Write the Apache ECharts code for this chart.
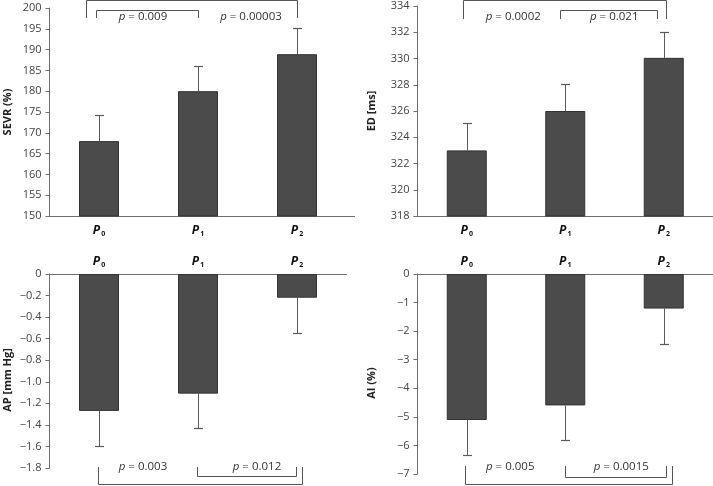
<!DOCTYPE html>
<html>
<head>
<meta charset="utf-8">
<script src="https://cdn.jsdelivr.net/npm/echarts@6/dist/echarts.min.js"></script>
<style>
html,body{margin:0;padding:0;background:#fff;}
#c{width:713px;height:486px;}
</style>
</head>
<body>
<div id="c"></div>
<script>
// ---- data ----
const categories = ['0', '1', '2'];
const sevrMean = [168, 180, 188.9];
const sevrErrEnd = [174.3, 186.1, 195.1];
const edMean = [323, 326, 330.05];
const edErrEnd = [325.05, 328.05, 332.05];
const apMean = [-1.27, -1.11, -0.22];
const apErrEnd = [-1.60, -1.43, -0.55];
const aiMean = [-5.11, -4.60, -1.21];
const aiErrEnd = [-6.34, -5.82, -2.44];
const yNames = ['SEVR (%)', 'ED [ms]', 'AP [mm Hg]', 'AI (%)'];
const pTexts = [
  ['0.009', '0.00003'],
  ['0.0002', '0.021'],
  ['0.003', '0.012'],
  ['0.005', '0.0015']
];

const FONT = 'Open Sans';
const chart = echarts.init(document.getElementById('c'), null, {renderer: 'canvas'});

const grids = [
  {left: 49.5, top: 8, width: 297, height: 208},
  {left: 417.5, top: 6, width: 295.5, height: 210},
  {left: 49.5, top: 274, width: 297, height: 194},
  {left: 417.5, top: 274, width: 295.5, height: 200}
];
const yRanges = [
  {min: 150, max: 200, interval: 5},
  {min: 318, max: 334, interval: 2},
  {min: -1.8, max: 0, interval: 0.2},
  {min: -7, max: 0, interval: 1}
];
const means = [sevrMean, edMean, apMean, aiMean];
const errs = [sevrErrEnd, edErrEnd, apErrEnd, aiErrEnd];

function fmtY(i) {
  return function (v) {
    if (Math.abs(v) < 1e-9) return '0';
    let s = (i === 2) ? v.toFixed(1) : String(Math.round(v));
    return s.replace('-', '\u2212');
  };
}

const xAxes = [], yAxes = [], series = [];
for (let i = 0; i < 4; i++) {
  const top = i >= 2;
  xAxes.push({
    type: 'category', gridIndex: i, data: categories,
    position: top ? 'top' : 'bottom',
    axisLine: {onZero: false, lineStyle: {color: '#6e6e6e', width: 1}},
    axisTick: {show: false},
    axisLabel: {
      margin: top ? 6 : 8,
      formatter: v => '{p|P}{s|' + v + '}',
      rich: {
        p: {fontFamily: FONT, fontWeight: 'bold', fontStyle: 'italic', fontSize: 12, color: '#111'},
        s: {fontFamily: FONT, fontWeight: 'bold', fontSize: 7, color: '#111', padding: [6, 0, 0, 1]}
      }
    }
  });
  yAxes.push({
    type: 'value', gridIndex: i,
    min: yRanges[i].min, max: yRanges[i].max, interval: yRanges[i].interval,
    splitLine: {show: false},
    axisLine: {show: true, lineStyle: {color: '#6e6e6e', width: 1}},
    axisTick: {show: true, length: 4, lineStyle: {color: '#6e6e6e'}},
    axisLabel: {fontFamily: FONT, fontSize: 11, color: '#444', margin: 8, formatter: fmtY(i)},
    name: yNames[i], nameLocation: 'middle',
    nameGap: i % 2 === 0 ? 36 : 40,
    nameTextStyle: {fontFamily: FONT, fontWeight: 'bold', fontSize: 11, color: '#222',
      padding: top ? [0, 18, 0, 0] : [0, 0, 0, 0]}
  });
  series.push({
    type: 'bar', xAxisIndex: i, yAxisIndex: i, data: means[i], barWidth: 40,
    itemStyle: {color: '#4b4b4b', borderColor: '#333', borderWidth: 1},
    silent: true, animation: false
  });
  series.push({
    type: 'custom', xAxisIndex: i, yAxisIndex: i, clip: false, animation: false, silent: true, z: 5,
    data: means[i].map((m, k) => [k, m, errs[i][k]]),
    encode: {x: 0, y: [1, 2]},
    renderItem: function (params, api) {
      const a = api.coord([api.value(0), api.value(1)]);
      const b = api.coord([api.value(0), api.value(2)]);
      const x = Math.round(a[0]) + 0.5;
      const yb = Math.round(b[1]) + 0.5;
      return {
        type: 'group',
        children: [
          {type: 'line', shape: {x1: x, y1: a[1], x2: x, y2: yb}, style: {stroke: '#5a5a5a', lineWidth: 1}},
          {type: 'line', shape: {x1: x - 4.5, y1: yb, x2: x + 4.5, y2: yb}, style: {stroke: '#5a5a5a', lineWidth: 1.2}}
        ]
      };
    }
  });
}

chart.setOption({
  animation: false,
  grid: grids.map(g => Object.assign({containLabel: false}, g)),
  xAxis: xAxes, yAxis: yAxes, series: series
});

// ---- significance brackets (annotation) ----
const brackets = [
  {p: 0, a: [0, -13], b: [2, 0], bar: 0.5, leg: 18},
  {p: 0, a: [0, -3], b: [1, 0], bar: 10.5, leg: 18},
  {p: 1, a: [0, -3.5], b: [2, 2.5], bar: 0.5, leg: 19},
  {p: 1, a: [1, -5], b: [2, -6.5], bar: 10.5, leg: 19},
  {p: 2, a: [0, -1], b: [2, 5], bar: 484.5, leg: 467},
  {p: 2, a: [1, -1], b: [2, -1], bar: 476.5, leg: 467},
  {p: 3, a: [0, -1.5], b: [2, 8.5], bar: 484.5, leg: 466},
  {p: 3, a: [1, 0], b: [2, 2.5], bar: 477.5, leg: 466}
];
const textPos = [
  [[0, 44, 17], [1, 53, 17]],
  [[0, 46.5, 17], [1, 49, 17]],
  [[0, 44, 467], [1, 59, 467]],
  [[0, 43.5, 467], [1, 56, 467]]
];
const gfx = [];
function px(p, c) { return chart.convertToPixel({xAxisIndex: p}, c); }
brackets.forEach(br => {
  const x1 = Math.round(px(br.p, br.a[0]) + br.a[1]) + 0.5;
  const x2 = Math.round(px(br.p, br.b[0]) + br.b[1]) + 0.5;
  gfx.push({
    type: 'polyline', silent: true,
    shape: {points: [[x1, br.leg], [x1, br.bar], [x2, br.bar], [x2, br.leg]]},
    style: {stroke: '#555', lineWidth: 1, fill: null}
  });
});
textPos.forEach((arr, p) => {
  arr.forEach((t, k) => {
    gfx.push({
      type: 'text', silent: true,
      x: px(p, t[0]) + t[1], y: t[2],
      style: {
        text: '{i|p} = ' + pTexts[p][k],
        align: 'center', verticalAlign: 'middle',
        fontFamily: FONT, fontSize: 11.5, fill: '#333',
        rich: {i: {fontFamily: FONT, fontStyle: 'italic', fontSize: 11.5, fill: '#333'}}
      }
    });
  });
});
// extension of the first panel's category axis line
const g0 = grids[0];
gfx.push({
  type: 'line', silent: true,
  shape: {x1: g0.left + g0.width, y1: g0.top + g0.height + 0.5, x2: 355, y2: g0.top + g0.height + 0.5},
  style: {stroke: '#6e6e6e', lineWidth: 1}
});
chart.setOption({graphic: gfx});
</script>
</body>
</html>
